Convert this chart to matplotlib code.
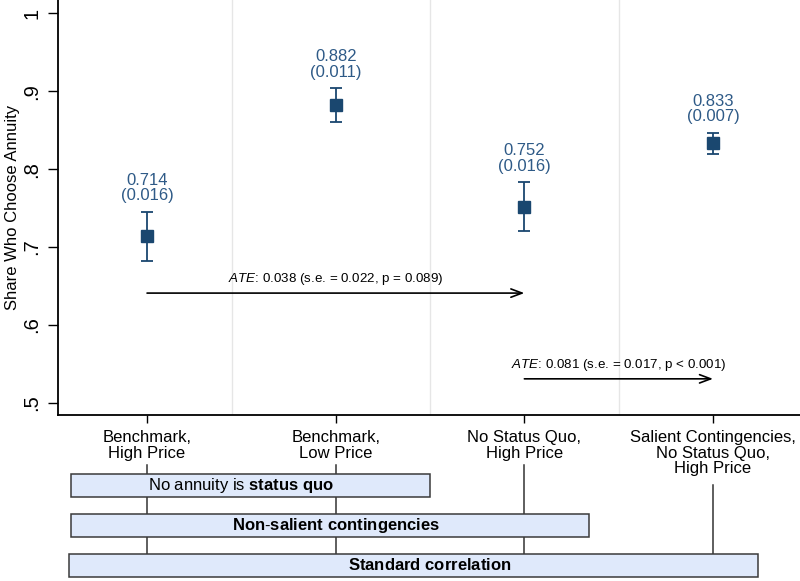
import numpy as np
import matplotlib.pyplot as plt
import matplotlib.transforms as mtransforms
from matplotlib.patches import Rectangle

plt.rcParams['font.family'] = ['Liberation Sans', 'DejaVu Sans']
plt.rcParams['mathtext.fontset'] = 'custom'
plt.rcParams['mathtext.rm'] = 'Liberation Sans'
plt.rcParams['mathtext.it'] = 'Liberation Sans:italic'
plt.rcParams['mathtext.bf'] = 'Liberation Sans:bold'

# treatment arms
arms = ['Benchmark,\nHigh Price', 'Benchmark,\nLow Price', 'No Status Quo,\nHigh Price',
        'Salient Contingencies,\nNo Status Quo,\nHigh Price']
share = [0.714, 0.882, 0.752, 0.833]
se = [0.016, 0.011, 0.016, 0.007]

# treatment effect comparisons: (from arm, to arm, height, label)
ate_from = [1, 3]
ate_to = [3, 4]
ate_y = [0.641, 0.531]
ate_text = [r'$\mathit{ATE}$: 0.038 (s.e. = 0.022, p = 0.089)',
            r'$\mathit{ATE}$: 0.081 (s.e. = 0.017, p < 0.001)']

# design feature bands below the axis
band_text = [r'No annuity is $\mathbf{status\ quo}$',
             r'$\mathbf{Non\text{-}salient\ contingencies}$',
             r'$\mathbf{Standard\ correlation}$']

navy = '#1a476f'
lbl_col = '#2e5a87'

x = np.arange(1, len(share) + 1)
share = np.array(share)
ci = 1.96 * np.array(se)

fig = plt.figure(figsize=(8, 5.81), dpi=100)
ax = fig.add_axes([58 / 800, 1 - 415 / 581, 1 - 58 / 800, 415 / 581])

for gx in [1.45, 2.5, 3.5]:
    ax.axvline(gx, color='#e6e6e6', lw=1, zorder=0)

ax.errorbar(x, share, yerr=ci, fmt='none', ecolor=navy, elinewidth=1.3,
            capsize=4.5, capthick=1.3, zorder=2)
ax.plot(x, share, 's', color=navy, markersize=8.3, zorder=3)

for xi, s, e, c in zip(x, share, se, ci):
    ax.annotate(f'{s:.3f}\n({e:.3f})', xy=(xi, s + c), xytext=(0, 6),
                textcoords='offset points', ha='center', va='bottom',
                fontsize=12, color=lbl_col, linespacing=1.05)

for x0, x1, y, t in zip(ate_from, ate_to, ate_y, ate_text):
    ax.annotate('', xy=(x1, y), xytext=(x0, y),
                arrowprops=dict(arrowstyle='->,head_length=0.8,head_width=0.3',
                                color='black', lw=1.2, shrinkA=0, shrinkB=0))
    ax.text((x0 + x1) / 2, y + 0.0075, t, ha='center', va='bottom', fontsize=9.6)

ax.set_xlim(0.528, 4.461)
ax.set_ylim(0.4846, 1.017)
ax.set_yticks([0.5, 0.6, 0.7, 0.8, 0.9, 1.0])
ax.set_yticklabels(['.5', '.6', '.7', '.8', '.9', '1'])
ax.set_xticks(x)
ax.set_xticklabels(arms, fontsize=12, linespacing=1.05)
ax.tick_params(axis='y', labelsize=14.5, labelrotation=90, length=7, width=1, pad=5)
ax.tick_params(axis='x', length=6, width=1, pad=5)
for lab in ax.get_yticklabels():
    lab.set_va('center')
ax.set_ylabel('Share Who Choose Annuity', fontsize=12)
ax.yaxis.set_label_coords(-0.0512, 0.5)
ax.spines['top'].set_visible(False)
ax.spines['right'].set_visible(False)
ax.spines['left'].set_linewidth(1.3)
ax.spines['bottom'].set_linewidth(1.3)

# bands and connector lines, x in data units, y in figure fraction
trans = mtransforms.blended_transform_factory(ax.transData, fig.transFigure)
line_top = [465, 465, 465, 485]
for xi, top in zip(x, line_top):
    ax.plot([xi, xi], [1 - top / 581, 1 - 554 / 581], color='#333333', lw=1.1,
            transform=trans, clip_on=False, zorder=1)

band_left = [0.596, 0.596, 0.587]
band_right = [2.5, 3.342, 4.236]
band_top = [474, 514, 554]
band_mid = [1.5, 2.0, 2.5]
for l, r, t, m, txt in zip(band_left, band_right, band_top, band_mid, band_text):
    y0 = 1 - (t + 23) / 581
    ax.add_patch(Rectangle((l, y0), r - l, 23 / 581, transform=trans, clip_on=False,
                           facecolor='#dfe9fb', edgecolor='#3a3a3a', lw=1.1, zorder=4))
    ax.text(m, y0 + 11.5 / 581, txt, transform=trans, ha='center', va='center',
            fontsize=12, zorder=5)

fig.savefig('out.png', dpi=100)
